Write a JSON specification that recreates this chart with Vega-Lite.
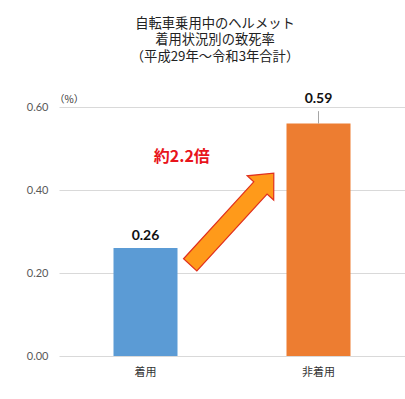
{
  "$schema": "https://vega.github.io/schema/vega-lite/v6.json",
  "width": 346,
  "height": 249,
  "autosize": {"type": "none"},
  "padding": {"left": 59, "top": 107, "right": 0, "bottom": 43},
  "background": "white",
  "title": {
    "text": ["自転車乗用中のヘルメット", "着用状況別の致死率", "（平成29年～令和3年合計）"],
    "font": "Noto Sans CJK JP",
    "fontSize": 13.3,
    "fontWeight": "normal",
    "color": "#222222",
    "anchor": "middle",
    "frame": "group",
    "dx": -17,
    "offset": 29,
    "lineHeight": 16.5
  },
  "config": {"view": {"stroke": null}},
  "datasets": {
    "main": [
      {"cat": "着用", "height": 0.26, "value": 0.26, "label": "0.26"},
      {"cat": "非着用", "height": 0.56, "value": 0.59, "label": "0.59"}
    ],
    "arrow": [{"cat": "着用", "value": 0.33}],
    "note": [{"cat": "着用", "value": 0.48, "note": "約2.2倍"}]
  },
  "encoding": {
    "x": {
      "field": "cat",
      "type": "nominal",
      "sort": ["着用", "非着用"],
      "scale": {"paddingInner": 0, "paddingOuter": 0},
      "axis": {
        "title": null,
        "labelAngle": 0,
        "domain": false,
        "ticks": false,
        "labelPadding": 10,
        "labelFont": "Noto Sans CJK JP",
        "labelFontSize": 11,
        "labelColor": "#333333"
      }
    }
  },
  "layer": [
    {
      "data": {"name": "main"},
      "mark": {"type": "bar", "width": 64},
      "encoding": {
        "y": {
          "field": "height",
          "type": "quantitative",
          "scale": {"domain": [0, 0.6], "nice": false},
          "axis": {
            "values": [0, 0.2, 0.4, 0.6],
            "format": ".2f",
            "ticks": false,
            "domain": false,
            "labelPadding": 11,
            "labelFont": "Lato",
            "labelFontSize": 11,
            "labelColor": "#595959",
            "gridColor": "#D9D9D9",
            "title": "（%）",
            "titleAngle": 0,
            "titleAlign": "left",
            "titleBaseline": "middle",
            "titleX": -5,
            "titleY": -8,
            "titleFont": "Noto Sans CJK JP",
            "titleFontWeight": "normal",
            "titleFontSize": 10,
            "titleColor": "#333333"
          }
        },
        "color": {
          "field": "cat",
          "type": "nominal",
          "scale": {"domain": ["着用", "非着用"], "range": ["#5B9BD5", "#ED7D31"]},
          "legend": null
        }
      }
    },
    {
      "data": {"name": "main"},
      "mark": {"type": "rule", "color": "#A6A6A6", "strokeWidth": 1},
      "encoding": {
        "y": {"field": "height", "type": "quantitative"},
        "y2": {"field": "value"}
      }
    },
    {
      "data": {"name": "main"},
      "mark": {"type": "text", "font": "Lato", "fontSize": 14, "fontWeight": "bold", "color": "#111111", "baseline": "middle", "dy": -12},
      "encoding": {
        "y": {"field": "value", "type": "quantitative"},
        "text": {"field": "label"}
      }
    },
    {
      "data": {"name": "arrow"},
      "mark": {
        "type": "point",
        "shape": "M -1 -0.145 L 0.68 -0.145 L 0.68 -0.29 L 1 0 L 0.68 0.29 L 0.68 0.145 L -1 0.145 Z",
        "filled": true,
        "fill": "#FF9A1A",
        "stroke": "#E0301E",
        "strokeWidth": 1.2,
        "opacity": 1,
        "fillOpacity": 1,
        "angle": -47.6,
        "size": 15376
      },
      "encoding": {
        "x": {"field": "cat", "type": "nominal", "bandPosition": 1},
        "y": {"field": "value", "type": "quantitative"}
      }
    },
    {
      "data": {"name": "note"},
      "mark": {"type": "text", "font": "Noto Sans CJK JP", "fontSize": 16, "fontWeight": "bold", "color": "#E8141B", "baseline": "middle"},
      "encoding": {
        "x": {"field": "cat", "type": "nominal", "bandPosition": 0.71},
        "y": {"field": "value", "type": "quantitative"},
        "text": {"field": "note"}
      }
    }
  ]
}
